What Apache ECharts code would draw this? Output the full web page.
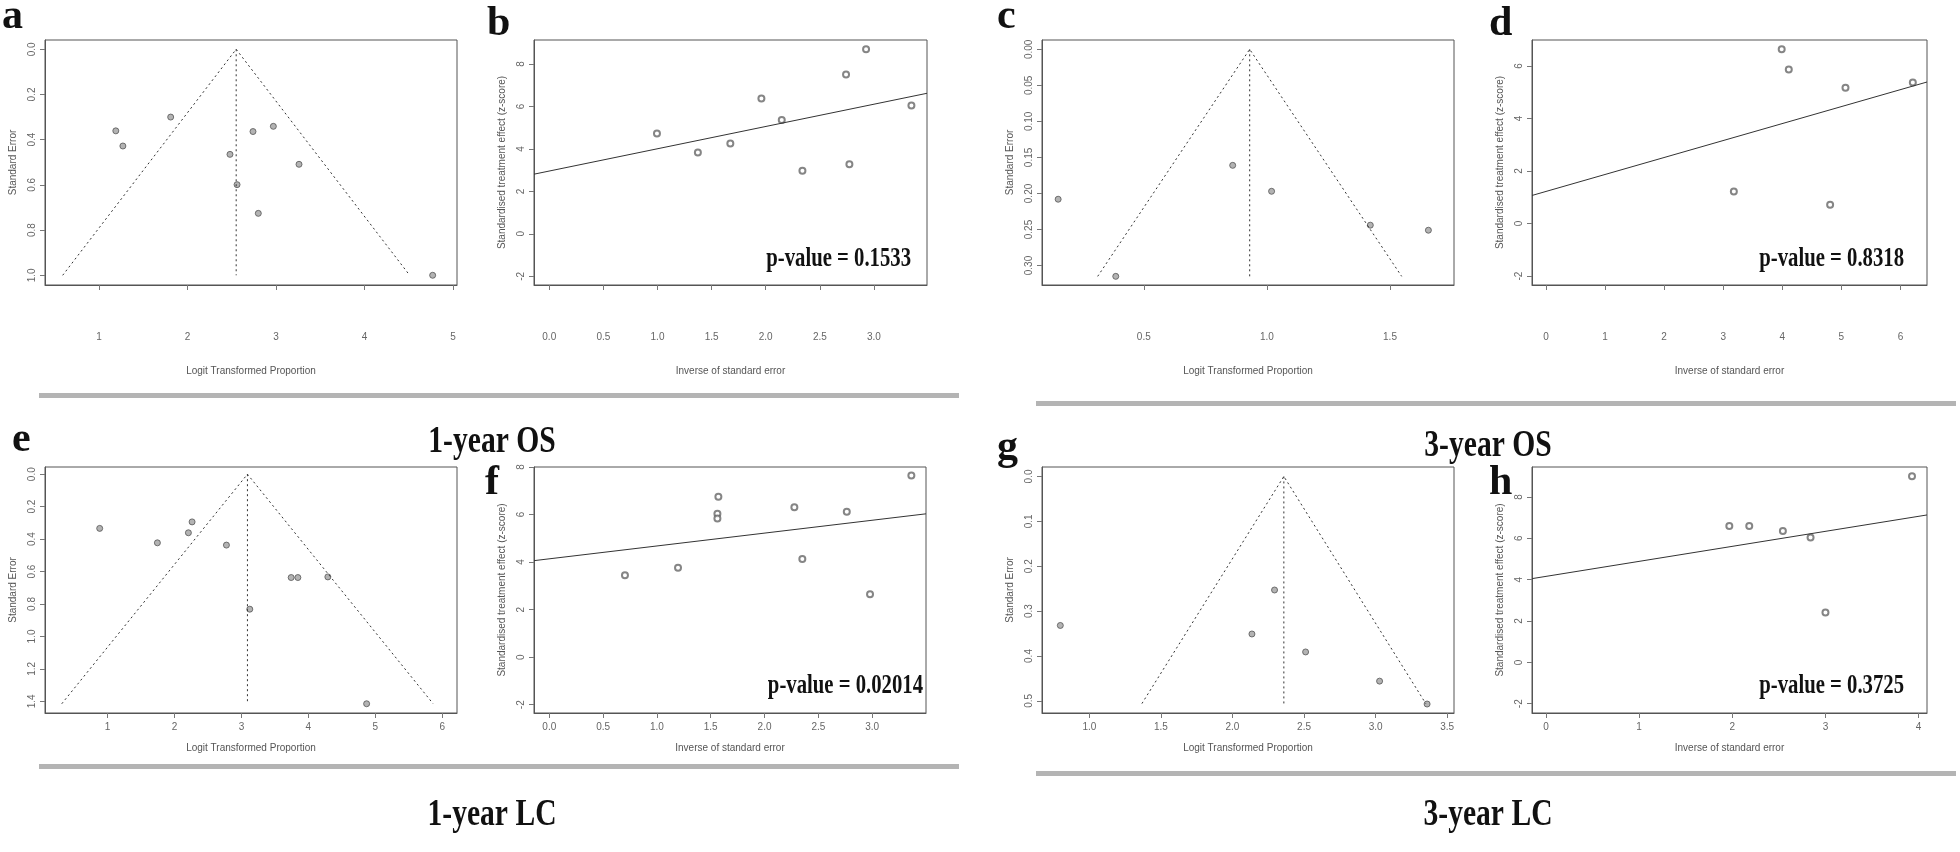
<!DOCTYPE html>
<html><head><meta charset="utf-8">
<script src="https://cdn.jsdelivr.net/npm/echarts@6/dist/echarts.min.js"></script>
<style>html,body{margin:0;padding:0;background:#fff}#c{width:1960px;height:852px}</style>
</head><body><div id="c"></div>
<script>
// ---------- data ----------
// a: 1-year OS funnel plot
const aLogit = [1.19, 1.27, 1.81, 2.48, 2.56, 2.74, 2.97, 2.80, 3.26, 4.77];
const aSE    = [0.361, 0.428, 0.300, 0.465, 0.599, 0.364, 0.341, 0.726, 0.509, 1.000];
const aCenter = 2.55, aSEmax = 1.0;
// b: 1-year OS Egger plot
const bPrec = [0.995, 1.373, 1.673, 1.96, 2.148, 2.339, 2.742, 2.773, 2.927, 3.346];
const bZ    = [4.73, 3.83, 4.26, 6.38, 5.36, 2.97, 7.51, 3.28, 8.69, 6.05];
const bLine = [[-0.141, 2.81], [3.49, 6.62]];
const bP = 'p-value = 0.1533';
// c: 3-year OS funnel plot
const cLogit = [0.152, 0.386, 0.861, 1.019, 1.42, 1.656];
const cSE    = [0.208, 0.315, 0.161, 0.197, 0.244, 0.251];
const cCenter = 0.93, cSEmax = 0.315;
// d: 3-year OS Egger plot
const dPrec = [4.81, 3.18, 6.21, 5.07, 4.11, 3.99];
const dZ    = [0.72, 1.22, 5.37, 5.17, 5.87, 6.64];
const dLine = [[-0.237, 1.07], [6.45, 5.39]];
const dP = 'p-value = 0.8318';
// e: 1-year LC funnel plot
const eLogit = [0.883, 1.745, 2.208, 2.263, 2.776, 3.125, 3.743, 3.843, 4.291, 4.87];
const eSE    = [0.334, 0.423, 0.361, 0.294, 0.437, 0.832, 0.637, 0.637, 0.633, 1.415];
const eCenter = 3.09, eSEmax = 1.415;
// f: 1-year LC Egger plot
const fPrec = [0.703, 1.196, 1.571, 1.562, 1.562, 2.277, 2.351, 2.764, 2.98, 3.364];
const fZ    = [3.45, 3.76, 6.75, 6.03, 5.83, 6.31, 4.13, 6.12, 2.65, 7.64];
const fLine = [[-0.142, 4.06], [3.50, 6.03]];
const fP = 'p-value = 0.02014';
// g: 3-year LC funnel plot
const gLogit = [0.797, 2.136, 2.294, 2.511, 3.028, 3.36];
const gSE    = [0.332, 0.351, 0.253, 0.391, 0.456, 0.507];
const gCenter = 2.359, gSEmax = 0.506;
// h: 3-year LC Egger plot
const hPrec = [1.968, 2.182, 2.543, 2.84, 3.0, 3.929];
const hZ    = [6.59, 6.59, 6.36, 6.04, 2.41, 9.0];
const hLine = [[-0.15, 4.05], [4.09, 7.13]];
const hP = 'p-value = 0.3725';

// tick labels
const aXTicks = ['1','2','3','4','5'];
const aYTicks = ['0.0','0.2','0.4','0.6','0.8','1.0'];
const bXTicks = ['0.0','0.5','1.0','1.5','2.0','2.5','3.0'];
const bYTicks = ['-2','0','2','4','6','8'];
const cXTicks = ['0.5','1.0','1.5'];
const cYTicks = ['0.00','0.05','0.10','0.15','0.20','0.25','0.30'];
const dXTicks = ['0','1','2','3','4','5','6'];
const dYTicks = ['-2','0','2','4','6'];
const eXTicks = ['1','2','3','4','5','6'];
const eYTicks = ['0.0','0.2','0.4','0.6','0.8','1.0','1.2','1.4'];
const fXTicks = ['0.0','0.5','1.0','1.5','2.0','2.5','3.0'];
const fYTicks = ['-2','0','2','4','6','8'];
const gXTicks = ['1.0','1.5','2.0','2.5','3.0','3.5'];
const gYTicks = ['0.0','0.1','0.2','0.3','0.4','0.5'];
const hXTicks = ['0','1','2','3','4'];
const hYTicks = ['-2','0','2','4','6','8'];

const panelLetters = ['a','b','c','d','e','f','g','h'];
const sectionTitles = ['1-year OS','3-year OS','1-year LC','3-year LC'];
const funnelXName = 'Logit Transformed Proportion';
const funnelYName = 'Standard Error';
const eggerXName = 'Inverse of standard error';
const eggerYName = 'Standardised treatment effect (z-score)';

// ---------- layout ----------
const boxes = [
  {l:45,  t:40,  r:457,  b:285}, {l:534, t:40,  r:927,  b:285},
  {l:1042,t:40,  r:1454, b:285}, {l:1532,t:40,  r:1927, b:285},
  {l:45,  t:467, r:457,  b:713}, {l:534, t:467, r:926,  b:713},
  {l:1042,t:467, r:1454, b:713}, {l:1532,t:467, r:1927, b:713}
];
const ranges = [
  {x:[0.39,5.045],   y:[-0.041,1.043]},
  {x:[-0.141,3.49],  y:[-2.41,9.13]},
  {x:[0.0864,1.76],  y:[-0.0129,0.327]},
  {x:[-0.237,6.45],  y:[-2.34,6.99]},
  {x:[0.066,6.22],   y:[-0.0444,1.472]},
  {x:[-0.142,3.50],  y:[-2.35,8.0]},
  {x:[0.669,3.548],  y:[-0.021,0.527]},
  {x:[-0.15,4.09],   y:[-2.45,9.45]}
];
// row-dependent spacing of x tick labels and x axis titles
const xLabelMargin = [47, 9];
const xNameGap = [81, 30];

const funnels = [
  {x:aLogit, se:aSE, c:aCenter, m:aSEmax, xt:aXTicks, yt:aYTicks},
  {x:cLogit, se:cSE, c:cCenter, m:cSEmax, xt:cXTicks, yt:cYTicks},
  {x:eLogit, se:eSE, c:eCenter, m:eSEmax, xt:eXTicks, yt:eYTicks},
  {x:gLogit, se:gSE, c:gCenter, m:gSEmax, xt:gXTicks, yt:gYTicks}
];
const eggers = [
  {x:bPrec, z:bZ, line:bLine, p:bP, xt:bXTicks, yt:bYTicks},
  {x:dPrec, z:dZ, line:dLine, p:dP, xt:dXTicks, yt:dYTicks},
  {x:fPrec, z:fZ, line:fLine, p:fP, xt:fXTicks, yt:fYTicks},
  {x:hPrec, z:hZ, line:hLine, p:hP, xt:hXTicks, yt:hYTicks}
];

const tickFont = 'Liberation Sans Narrow, Liberation Sans, Arial, sans-serif';
const grids = [], xAxes = [], yAxes = [], series = [], graphics = [];

function makeAxis(ticks, isY, inverse, name, nameGap, margin, range) {
  const vals = ticks.map(Number);
  return {
    type: 'value', min: range[0], max: range[1], inverse: !!inverse,
    name: name, nameLocation: 'middle', nameGap: nameGap,
    nameTextStyle: {fontFamily: tickFont, fontSize: 10, color: '#555'},
    axisLine: {show: true, onZero: false, lineStyle: {color: '#555', width: 1}},
    axisTick: {show: true, length: 5, inside: false, customValues: vals, lineStyle: {color: '#777'}},
    axisLabel: {show: true, customValues: vals, rotate: isY ? 90 : 0,
      margin: margin, fontFamily: tickFont, fontSize: 10, color: '#666',
      formatter: v => { const i = vals.findIndex(t => Math.abs(t - v) < 1e-9); return i >= 0 ? ticks[i] : ''; }},
    splitLine: {show: false}
  };
}

for (let i = 0; i < 8; i++) {
  const bx = boxes[i];
  const row = i < 4 ? 0 : 1;
  grids.push({left: bx.l, top: bx.t, width: bx.r - bx.l, height: bx.b - bx.t,
    show: true, borderColor: '#555', borderWidth: 1, backgroundColor: 'transparent', containLabel: false});
  const isFunnel = (i % 2 === 0);
  const k = Math.floor(i / 2);
  const src = isFunnel ? funnels[k] : eggers[k];
  const xa = makeAxis(src.xt, false, false, isFunnel ? funnelXName : eggerXName, xNameGap[row], xLabelMargin[row], ranges[i].x);
  const ya = makeAxis(src.yt, true, isFunnel, isFunnel ? funnelYName : eggerYName, 27, 8, ranges[i].y);
  xa.gridIndex = i; ya.gridIndex = i;
  xAxes.push(xa); yAxes.push(ya);

  if (isFunnel) {
    const f = src;
    series.push({type: 'line', xAxisIndex: i, yAxisIndex: i, symbol: 'none', silent: true,
      lineStyle: {type: [2, 3], color: '#333', width: 1},
      data: [[f.c - 1.96 * f.m, f.m], [f.c, 0], [f.c + 1.96 * f.m, f.m]]});
    series.push({type: 'line', xAxisIndex: i, yAxisIndex: i, symbol: 'none', silent: true,
      lineStyle: {type: [2, 3], color: '#333', width: 1},
      data: [[f.c, 0], [f.c, f.m]]});
    series.push({type: 'scatter', xAxisIndex: i, yAxisIndex: i, symbol: 'circle', symbolSize: 6, silent: true,
      itemStyle: {color: '#a0a0a0', borderColor: '#555', borderWidth: 1},
      data: f.x.map((v, j) => [v, f.se[j]])});
  } else {
    const e = src;
    series.push({type: 'line', xAxisIndex: i, yAxisIndex: i, symbol: 'none', silent: true,
      lineStyle: {type: 'solid', color: '#333', width: 1}, data: e.line});
    series.push({type: 'scatter', xAxisIndex: i, yAxisIndex: i, symbol: 'emptyCircle', symbolSize: 6, silent: true,
      itemStyle: {color: '#666', borderWidth: 0.7},
      data: e.x.map((v, j) => [v, e.z[j]])});
  }
}

// panel letters (baseline positions; bottom-aligned text box adds ~10px descent)
const letterBase = [[2,28],[487,35],[997,28],[1489,35],[12,451],[485,494],[997,459],[1489,494]];
panelLetters.forEach((L, i) => {
  graphics.push({type: 'text', x: letterBase[i][0], y: letterBase[i][1] + 10, silent: true,
    style: {text: L, x: 0, y: 0, font: 'bold 42px "Liberation Serif", "Times New Roman", serif',
      fill: '#111', align: 'left', verticalAlign: 'bottom', textAlign: 'left', textVerticalAlign: 'bottom'}});
});
// p-values (right-aligned, condensed bold serif)
const pPos = [[911,273],[1904,273],[923,700],[1904,700]];
eggers.forEach((e, k) => {
  graphics.push({type: 'text', x: pPos[k][0], y: pPos[k][1], scaleX: 0.74, silent: true,
    style: {text: e.p, x: 0, y: 0, font: 'bold 28px "Liberation Serif", "Times New Roman", serif',
      fill: '#111', align: 'right', verticalAlign: 'bottom', textAlign: 'right', textVerticalAlign: 'bottom'}});
});
// separators
const sepPos = [[39,393,920],[1036,401,920],[39,764,920],[1036,771,920]];
sepPos.forEach(s => graphics.push({type: 'rect', silent: true,
  shape: {x: s[0], y: s[1], width: s[2], height: 5}, style: {fill: '#b4b4b4'}}));
// section titles
const titlePos = [[492,442],[1488,446],[492,815],[1488,815]];
sectionTitles.forEach((t, k) => {
  graphics.push({type: 'text', x: titlePos[k][0], y: titlePos[k][1], scaleX: 0.8, silent: true,
    style: {text: t, x: 0, y: 0, font: 'bold 37px "Liberation Serif", "Times New Roman", serif',
      fill: '#111', align: 'center', verticalAlign: 'middle', textAlign: 'center', textVerticalAlign: 'middle'}});
});

const chart = echarts.init(document.getElementById('c'), null, {renderer: 'canvas'});
chart.setOption({animation: false, backgroundColor: '#fff',
  grid: grids, xAxis: xAxes, yAxis: yAxes, series: series, graphic: graphics});
</script></body></html>
